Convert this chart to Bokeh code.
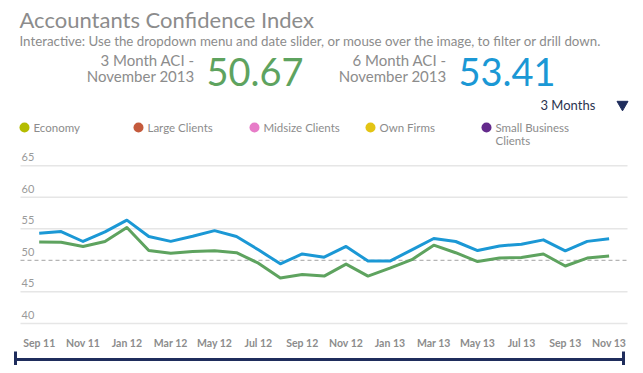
from bokeh.plotting import figure
from bokeh.models import Range1d, ColumnDataSource
from bokeh.core.properties import value
from bokeh.embed import file_html
from bokeh.resources import INLINE

# ---------------- data ----------------
months = ["Sep 11", "Oct 11", "Nov 11", "Dec 11", "Jan 12", "Feb 12", "Mar 12", "Apr 12",
          "May 12", "Jun 12", "Jul 12", "Aug 12", "Sep 12", "Oct 12", "Nov 12", "Dec 12",
          "Jan 13", "Feb 13", "Mar 13", "Apr 13", "May 13", "Jun 13", "Jul 13", "Aug 13",
          "Sep 13", "Oct 13", "Nov 13"]
aci_3m = [52.9, 52.85, 52.2, 52.98, 55.2, 51.55, 51.1, 51.4, 51.5, 51.2, 49.55, 47.2,
          47.75, 47.5, 49.4, 47.5, 48.75, 50.1, 52.4, 51.2, 49.8, 50.35, 50.45, 51.0,
          49.1, 50.35, 50.67]
aci_6m = [54.3, 54.56, 52.98, 54.5, 56.36, 53.77, 53.0, 53.8, 54.7, 53.77, 51.66, 49.44,
          51.0, 50.5, 52.2, 49.87, 49.87, 51.66, 53.45, 52.98, 51.55, 52.28, 52.55, 53.24,
          51.5, 53.0, 53.41]
y_ticks = [40, 45, 50, 55, 60, 65]
y_tick_labels = ["40", "45", "50", "55", "60", "65"]
reference_level = 50
x_tick_labels = months[::2]
legend_labels = ["Economy", "Large Clients", "Midsize Clients", "Own Firms", "Small Business"]
legend_colors = ["#b4bc00", "#c45a3c", "#e77cc8", "#e3c414", "#642a8c"]
kpi_3m_label = ["3 Month ACI -", "November 2013"]
kpi_6m_label = ["6 Month ACI -", "November 2013"]
kpi_3m_value = "50.67"
kpi_6m_value = "53.41"
title_text = "Accountants Confidence Index"
subtitle_text = "Interactive: Use the dropdown menu and date slider, or mouse over the image, to filter or drill down."
dropdown_text = "3 Months"

# ---------------- geometry (picture pixels -> data) ----------------
W, H = 635, 365
X0_PX, DX_PX = 38.7, 21.92          # month index 0 position, px per month
Y50_PX, DY_PX = 259.8, 6.31         # value 50 position, px per unit
x_start = (0 - X0_PX) / DX_PX
x_end = (W - X0_PX) / DX_PX
y_end = 50 + Y50_PX / DY_PX
y_start = 50 - (H - Y50_PX) / DY_PX


def px(xp):
    return (xp - X0_PX) / DX_PX


def py(yp):
    return 50 + (Y50_PX - yp) / DY_PX


FONT = value("Lato")
GREY = "#8c8c8c"
GREEN = "#5ea35f"
BLUE = "#1b98d5"
NAVY = "#1f2d5c"

p = figure(width=W, height=H, output_backend="svg", toolbar_location=None,
           x_range=Range1d(x_start, x_end), y_range=Range1d(y_start, y_end),
           x_axis_type=None, y_axis_type=None, min_border=0,
           outline_line_color=None, background_fill_color="white",
           border_fill_color="white")
p.xgrid.visible = False
p.ygrid.visible = False

idx = list(range(len(months)))

# grid lines
grid_vals = [v for v in y_ticks if v != reference_level]
p.segment(x0=[px(20)] * len(grid_vals), x1=[px(627)] * len(grid_vals),
          y0=grid_vals, y1=grid_vals, line_color="#e6e6e6", line_width=1.5)
p.segment(x0=[px(20)], x1=[px(627)], y0=[reference_level], y1=[reference_level],
          line_color="#b5b5b5", line_width=1.2, line_dash="4 3")

# y tick labels (above grid lines)
p.text(x=[px(21)] * len(y_ticks), y=y_ticks, text=y_tick_labels, text_font=FONT,
       text_font_size="11px", text_color="#9a9a9a", text_baseline="alphabetic",
       text_align="left", y_offset=-8.5)

# series lines
src = ColumnDataSource(dict(x=idx, a3=aci_3m, a6=aci_6m))
p.line("x", "a3", source=src, line_color=GREEN, line_width=3, line_join="round")
p.line("x", "a6", source=src, line_color=BLUE, line_width=3, line_join="round")

# x tick labels
p.text(x=idx[::2], y=[py(342)] * len(x_tick_labels), text=x_tick_labels, text_font=FONT,
       text_font_size="10.5px", text_color=GREY, text_align="center",
       text_baseline="middle", text_font_style="bold")

# date slider
p.segment(x0=[px(15)], x1=[px(623)], y0=[py(359)], y1=[py(359)],
          line_color=NAVY, line_width=3)
p.segment(x0=[px(15), px(623)], x1=[px(15), px(623)], y0=[py(351)] * 2, y1=[py(365)] * 2,
          line_color=NAVY, line_width=3)

# header: title and subtitle
p.text(x=[px(19)], y=[py(19)], text=[title_text], text_font=FONT, text_font_size="22px",
       text_color=GREY, text_baseline="alphabetic")
p.text(x=[px(19)], y=[py(40)], text=[subtitle_text], text_font=FONT,
       text_font_size="13.3px", text_color=GREY, text_baseline="alphabetic")

# KPIs
p.text(x=[px(194)] * 2, y=[py(59), py(75)], text=kpi_3m_label, text_font=FONT,
       text_font_size="15px", text_color=GREY, text_align="right", text_baseline="alphabetic")
p.text(x=[px(206)], y=[py(71)], text=[kpi_3m_value], text_font=FONT, text_font_size="38px",
       text_color=GREEN, text_baseline="alphabetic")
p.text(x=[px(446)] * 2, y=[py(59), py(75)], text=kpi_6m_label, text_font=FONT,
       text_font_size="15px", text_color=GREY, text_align="right", text_baseline="alphabetic")
p.text(x=[px(458)], y=[py(71)], text=[kpi_6m_value], text_font=FONT, text_font_size="38px",
       text_color=BLUE, text_baseline="alphabetic")

# dropdown
p.text(x=[px(540)], y=[py(104)], text=[dropdown_text], text_font=FONT, text_font_size="13px",
       text_color="#2b3450", text_baseline="middle")
p.scatter(x=[px(622)], y=[py(104)], marker="inverted_triangle", size=11,
          fill_color=NAVY, line_color=NAVY)

# legend
leg_x = [px(v) for v in (24, 138, 254, 370, 486)]
p.scatter(x=leg_x, y=[py(127)] * len(leg_x), size=10, fill_color=legend_colors,
          line_color=None)
p.text(x=leg_x, y=[py(127)] * len(leg_x), text=legend_labels, text_font=FONT,
       text_font_size="11.5px", text_color=GREY, text_baseline="middle", x_offset=9)
p.text(x=[leg_x[-1]], y=[py(140)], text=["Clients"], text_font=FONT,
       text_font_size="11.5px", text_color=GREY, text_baseline="middle", x_offset=9)

open("out.html", "w").write(file_html(p, INLINE))
